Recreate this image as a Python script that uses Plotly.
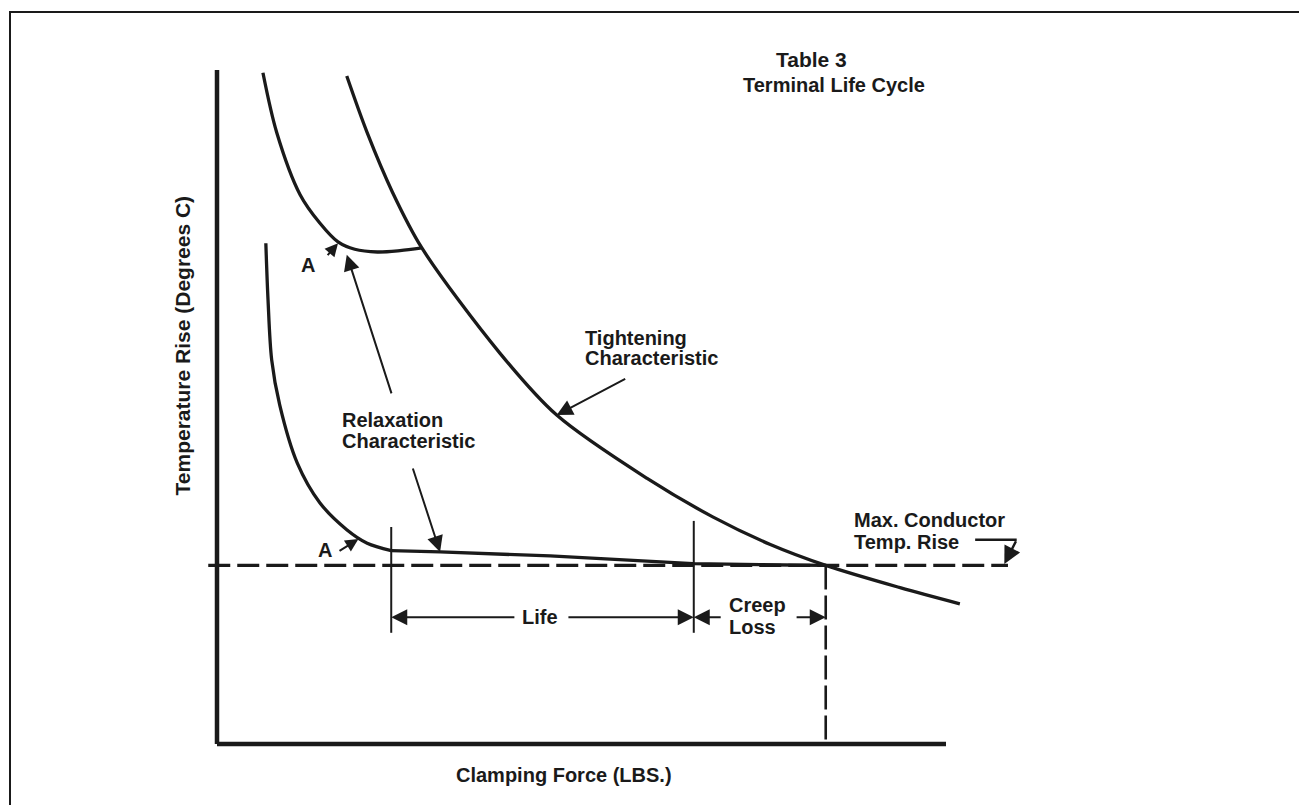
import plotly.graph_objects as go

# ---- schematic data (force and temperature in relative units, axes run 0..100) ----
force_axis_max = 100.0
temp_axis_max = 100.0

max_temp_rise = 26.5          # horizontal dashed limit
creep_limit_force = 83.5      # where tightening curve meets the limit
life_start_force = 23.9
life_end_force = 65.4
dim_line_temp = 18.8          # height of the Life / Creep Loss dimension arrows

tightening_force = [17.8, 20.6, 24.1, 28.1, 38.8, 46.6, 59.0, 68.0, 75.9, 83.5, 93.7, 101.9]
tightening_temp = [99.1, 90.7, 81.8, 73.6, 58.0, 48.8, 39.4, 33.7, 29.6, 26.5, 23.2, 20.8]

upper_relax_force = [6.3, 8.2, 11.4, 14.1, 16.6, 18.9, 22.0, 25.1, 28.1]
upper_relax_temp = [99.6, 90.7, 81.5, 77.3, 74.5, 73.4, 73.0, 73.2, 73.6]

lower_relax_force = [6.7, 7.0, 7.5, 8.6, 11.0, 14.1, 17.8, 20.6, 23.9]
lower_relax_temp = [74.3, 65.9, 57.0, 50.3, 41.7, 35.8, 31.8, 29.8, 28.7]

relax_tail_force = [23.9, 30.6, 45.7, 65.3, 74.5, 83.5]
relax_tail_temp = [28.7, 28.5, 27.9, 26.75, 26.6, 26.5]

# pixel scale of the drawing: px per unit on each axis, and origin position
W, H = 1299, 805
ORIGIN_PX = (217, 744)
PX_PER_X = 7.29
PX_PER_Y = 6.74

x_range = [-ORIGIN_PX[0] / PX_PER_X, (W - ORIGIN_PX[0]) / PX_PER_X]
y_range = [-(H - ORIGIN_PX[1]) / PX_PER_Y, ORIGIN_PX[1] / PX_PER_Y]

INK = "#1a1a1a"
FONT = "Liberation Sans, Arial, Helvetica, sans-serif"

fig = go.Figure()


def line(xs, ys, width=3, dash=None, shape="linear", smoothing=1.0):
    fig.add_trace(go.Scatter(
        x=xs, y=ys, mode="lines",
        line=dict(color=INK, width=width, dash=dash, shape=shape, smoothing=smoothing),
        hoverinfo="skip", showlegend=False,
    ))


# axes
line([0, 0], [temp_axis_max, 0], width=4.5)
line([0, force_axis_max], [0, 0], width=4.5)

# limit lines
line([-1.2, 108.5], [max_temp_rise, max_temp_rise], width=3.2, dash="22px,7px")
line([creep_limit_force, creep_limit_force], [max_temp_rise, 0], width=2.6, dash="24px,6px")

# characteristic curves
line(tightening_force, tightening_temp, width=3.3, shape="spline", smoothing=0.9)
line(upper_relax_force, upper_relax_temp, width=3.3, shape="spline", smoothing=0.9)
line(lower_relax_force, lower_relax_temp, width=3.3, shape="spline", smoothing=0.9)
line(relax_tail_force, relax_tail_temp, width=3.3)

# life boundaries
line([life_start_force, life_start_force], [32.2, 16.5], width=2)
line([life_end_force, life_end_force], [33.1, 16.5], width=2)

# Max. Conductor leader
line([104.0, 109.7], [30.3, 30.3], width=2.5)


def arrow(x_tail, y_tail, x_head, y_head, width=2, size=1.6):
    fig.add_annotation(
        x=x_head, y=y_head, ax=x_tail, ay=y_tail,
        xref="x", yref="y", axref="x", ayref="y",
        text="", showarrow=True, arrowhead=2, arrowsize=size,
        arrowwidth=width, arrowcolor=INK, standoff=0, startstandoff=0,
    )


# pointer arrows
arrow(24.0, 51.8, 17.8, 72.6)        # Relaxation -> upper curve
arrow(26.8, 41.1, 30.6, 28.5)        # Relaxation -> lower curve
arrow(56.2, 54.3, 46.6, 48.8)        # Tightening -> curve
arrow(15.0, 72.3, 16.6, 74.3, size=1.3)  # A (upper)
arrow(16.6, 28.5, 19.4, 30.4, size=1.3)  # A (lower)
arrow(109.7, 30.3, 108.0, 26.7, width=2.5, size=1.4)  # Max. Conductor

# dimension arrows
arrow(41.0, dim_line_temp, life_start_force, dim_line_temp)
arrow(48.0, dim_line_temp, life_end_force, dim_line_temp)
arrow(69.3, dim_line_temp, life_end_force, dim_line_temp)
arrow(79.3, dim_line_temp, creep_limit_force, dim_line_temp)


def label(x, y, text, size=20, xanchor="center", align="center", angle=0):
    fig.add_annotation(
        x=x, y=y, xref="x", yref="y", text=text, showarrow=False,
        xanchor=xanchor, yanchor="middle", align=align, textangle=angle,
        font=dict(family=FONT, size=size, color=INK, weight="bold"),
    )


# title
label(81.6, 101.6, "Table 3", size=21)
label(84.6, 97.8, "Terminal Life Cycle")

label(16.9, 48.0, "Relaxation", xanchor="left")
label(16.9, 44.9, "Characteristic", xanchor="left")
label(50.2, 60.3, "Tightening", xanchor="left")
label(50.2, 57.2, "Characteristic", xanchor="left")
label(87.1, 33.3, "Max. Conductor", xanchor="left")
label(87.1, 29.9, "Temp. Rise", xanchor="left")
label(12.5, 71.1, "A")
label(14.8, 28.8, "A")
label(44.3, dim_line_temp, "Life")
label(74.2, 20.6, "Creep")
label(73.4, 17.3, "Loss")

label(47.6, -4.6, "Clamping Force (LBS.)")
label(-4.6, 59.2, "Temperature Rise (Degrees C)", size=21, angle=-90)

# page frame (top and left rules)
fig.add_shape(type="line", xref="paper", yref="paper",
              x0=9 / W, x1=1.0, y0=1 - 12 / H, y1=1 - 12 / H,
              line=dict(color=INK, width=2))
fig.add_shape(type="line", xref="paper", yref="paper",
              x0=10 / W, x1=10 / W, y0=1 - 12 / H, y1=0,
              line=dict(color=INK, width=2))

fig.update_layout(
    width=W, height=H,
    margin=dict(l=0, r=0, t=0, b=0),
    paper_bgcolor="white", plot_bgcolor="white",
    xaxis=dict(range=x_range, visible=False, fixedrange=True),
    yaxis=dict(range=y_range, visible=False, fixedrange=True),
    showlegend=False,
)

fig.write_html("out.html", config={"displayModeBar": False})
